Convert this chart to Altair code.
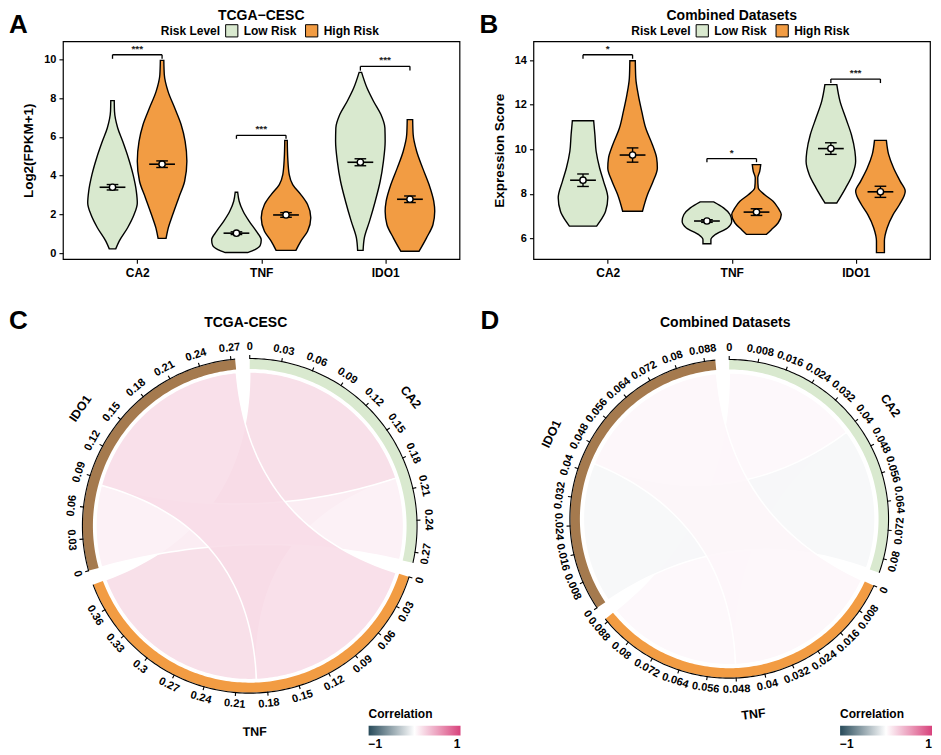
import json
import numpy as np
import pandas as pd
import altair as alt

FONT = "Liberation Sans"

GENES = ["CA2", "TNF", "IDO1"]
RISKS = ["Low Risk", "High Risk"]
RISK_COLORS = ["#d9e9cf", "#f29c43"]
SECTOR_COLORS = ["#d9e9cf", "#f29c43", "#a57a4e"]
CORR_COLORS = ["#284b5a", "#ffffff", "#d8427c"]

# ---------------- Panel A (TCGA-CESC) violin outlines: value, relative half-width
A_CA2_LOW_Y = [7.87, 7.32, 6.46, 5.77, 4.91, 4.05, 3.20, 2.59, 1.99, 1.31, 0.62, 0.22]
A_CA2_LOW_W = [0.07, 0.08, 0.21, 0.41, 0.64, 0.83, 0.96, 1.00, 0.87, 0.61, 0.27, 0.13]
A_CA2_HIGH_Y = [9.95, 9.21, 8.35, 7.49, 6.63, 5.77, 4.74, 3.71, 2.85, 1.99, 1.30, 0.76]
A_CA2_HIGH_W = [0.07, 0.09, 0.24, 0.51, 0.77, 0.93, 1.00, 0.91, 0.67, 0.43, 0.25, 0.16]
A_TNF_LOW_Y = [3.14, 2.68, 2.16, 1.65, 1.13, 0.68, 0.40, 0.18, 0.03]
A_TNF_LOW_W = [0.05, 0.11, 0.27, 0.51, 0.80, 1.00, 0.96, 0.75, 0.45]
A_TNF_HIGH_Y = [5.82, 4.91, 4.05, 3.54, 3.02, 2.51, 1.82, 1.13, 0.62, 0.14]
A_TNF_HIGH_W = [0.05, 0.07, 0.13, 0.27, 0.60, 0.87, 1.00, 0.87, 0.60, 0.40]
A_IDO1_LOW_Y = [9.33, 8.52, 7.84, 7.15, 6.46, 5.77, 4.74, 3.71, 2.68, 1.65, 0.79, 0.14]
A_IDO1_LOW_W = [0.05, 0.27, 0.53, 0.83, 0.99, 1.00, 0.93, 0.80, 0.60, 0.37, 0.16, 0.11]
A_IDO1_HIGH_Y = [6.89, 6.12, 5.26, 4.40, 3.54, 2.68, 2.16, 1.48, 0.79, 0.10]
A_IDO1_HIGH_W = [0.11, 0.13, 0.27, 0.51, 0.77, 0.96, 1.00, 0.93, 0.67, 0.37]

A_MEAN = [3.40, 4.59, 1.03, 1.97, 4.69, 2.78]
A_SE = [0.14, 0.17, 0.07, 0.12, 0.18, 0.17]
A_BRACKET_Y = [10.24, 6.08, 9.64]
A_BRACKET_TIP = [10.03, 5.90, 9.42]
A_STARS = ["***", "***", "***"]

# ---------------- Panel B (Combined Datasets)
B_CA2_LOW_Y = [11.28, 10.65, 9.91, 9.16, 8.56, 7.82, 7.22, 6.77, 6.55]
B_CA2_LOW_W = [0.43, 0.48, 0.53, 0.67, 0.83, 1.00, 0.91, 0.69, 0.55]
B_CA2_HIGH_Y = [13.97, 13.19, 12.44, 11.70, 10.95, 10.20, 9.61, 9.16, 8.56, 7.96, 7.22]
B_CA2_HIGH_W = [0.11, 0.13, 0.23, 0.37, 0.53, 0.80, 0.97, 1.00, 0.83, 0.60, 0.40]
B_TNF_LOW_Y = [7.64, 7.37, 7.07, 6.77, 6.47, 6.17, 5.95, 5.76]
B_TNF_LOW_W = [0.27, 0.67, 0.93, 1.00, 0.83, 0.33, 0.16, 0.16]
B_TNF_HIGH_Y = [9.31, 9.01, 8.72, 8.27, 7.96, 7.67, 7.37, 7.07, 6.69, 6.39, 6.18]
B_TNF_HIGH_W = [0.17, 0.13, 0.05, 0.07, 0.33, 0.67, 0.87, 1.00, 0.87, 0.60, 0.40]
B_IDO1_LOW_Y = [12.90, 12.15, 11.40, 10.65, 9.91, 9.46, 8.86, 8.27, 7.59]
B_IDO1_LOW_W = [0.24, 0.37, 0.60, 0.83, 0.97, 1.00, 0.87, 0.60, 0.24]
B_IDO1_HIGH_Y = [10.40, 9.77, 9.16, 8.56, 8.12, 7.52, 7.07, 6.47, 5.88, 5.36]
B_IDO1_HIGH_W = [0.24, 0.33, 0.53, 0.80, 1.00, 0.77, 0.51, 0.27, 0.16, 0.16]

B_MEAN = [8.61, 9.74, 6.78, 7.18, 10.03, 8.09]
B_SE = [0.28, 0.32, 0.06, 0.15, 0.26, 0.25]
B_BRACKET_Y = [14.24, 9.58, 13.15]
B_BRACKET_TIP = [14.06, 9.42, 12.97]
B_STARS = ["*", "*", "***"]

# ---------------- Panels C / D: gene-gene correlations (chord links)
PAIRS = [("CA2", "TNF"), ("CA2", "IDO1"), ("TNF", "IDO1")]
C_CORR = [0.196, 0.084, 0.19]
D_CORR = [0.041, -0.043, 0.048]
C_STEP = 0.03
D_STEP = 0.008

A_SHAPES = [(A_CA2_LOW_Y, A_CA2_LOW_W), (A_CA2_HIGH_Y, A_CA2_HIGH_W),
            (A_TNF_LOW_Y, A_TNF_LOW_W), (A_TNF_HIGH_Y, A_TNF_HIGH_W),
            (A_IDO1_LOW_Y, A_IDO1_LOW_W), (A_IDO1_HIGH_Y, A_IDO1_HIGH_W)]
B_SHAPES = [(B_CA2_LOW_Y, B_CA2_LOW_W), (B_CA2_HIGH_Y, B_CA2_HIGH_W),
            (B_TNF_LOW_Y, B_TNF_LOW_W), (B_TNF_HIGH_Y, B_TNF_HIGH_W),
            (B_IDO1_LOW_Y, B_IDO1_LOW_W), (B_IDO1_HIGH_Y, B_IDO1_HIGH_W)]

VIOLIN_HALF = 0.2
DODGE = 0.2
MEAN_HALF = 0.104
CAP_HALF = 0.047


def text_df(s):
    return pd.DataFrame({"t": [s]})


def violin_panel(shapes, means, ses, bky, btip, stars, ydom, yticks, ytitle,
                 title, letter, W, H):
    rows, stat, caps = [], [], []
    for gi, g in enumerate(GENES):
        for ri, r in enumerate(RISKS):
            k = gi * 2 + ri
            c = gi + 1 + (ri - 0.5) * 2 * DODGE
            ys, ws = shapes[k]
            for y, w in zip(ys, ws):
                rows.append(dict(vid=f"{g}|{r}", risk=r, v=y,
                                 lo=c - w * VIOLIN_HALF, hi=c + w * VIOLIN_HALF))
            m, s = means[k], ses[k]
            stat.append(dict(c=c, m=m, lo=m - s, hi=m + s,
                             ml=c - MEAN_HALF, mr=c + MEAN_HALF))
            for yy in (m - s, m + s):
                caps.append(dict(y=yy, cl=c - CAP_HALF, cr=c + CAP_HALF))
    vdf, sdf, cdf = pd.DataFrame(rows), pd.DataFrame(stat), pd.DataFrame(caps)
    brk, tips = [], []
    for gi, g in enumerate(GENES):
        x1, x2 = gi + 1 - DODGE, gi + 1 + DODGE
        brk.append(dict(x1=x1, x2=x2, xm=gi + 1, y=bky[gi], s=stars[gi]))
        for xx in (x1, x2):
            tips.append(dict(x=xx, y=btip[gi], y2=bky[gi]))
    bdf, tdf = pd.DataFrame(brk), pd.DataFrame(tips)

    xs = alt.Scale(domain=[0.4, 3.6], nice=False, zero=False)
    ysc = alt.Scale(domain=ydom, nice=False, zero=False)
    xax = alt.Axis(values=[1, 2, 3], labelExpr=f"{json.dumps(GENES)}[datum.value - 1]",
                   title=None, grid=False, domain=False, tickSize=4,
                   labelFontSize=12, labelFontWeight="bold", labelPadding=4)
    yax = alt.Axis(values=yticks, title=ytitle, grid=False, domain=False, tickSize=4,
                   labelFontSize=11, labelFontWeight="bold", labelPadding=3,
                   titleFontSize=13.5, titleFontWeight="bold", titlePadding=8)

    def X(f):
        return alt.X(f, type="quantitative", scale=xs, axis=xax)

    def Y(f):
        return alt.Y(f, type="quantitative", scale=ysc, axis=yax)

    leg = alt.Legend(orient="none", legendX=98, legendY=-18, direction="horizontal",
                     title="Risk Level", titleOrient="left", titleFontSize=12,
                     titleFontWeight="bold", labelFontSize=12, labelFontWeight="bold",
                     symbolType="square", symbolSize=150, symbolStrokeColor="black",
                     symbolStrokeWidth=1, symbolOpacity=1, labelOffset=5,
                     columnPadding=6, titlePadding=4)

    violin = alt.Chart(vdf).mark_area(orient="horizontal", interpolate="monotone",
                                      stroke="black", strokeWidth=1.4, opacity=1).encode(
        y=Y("v"), x=X("lo"), x2="hi",
        color=alt.Color("risk:N", scale=alt.Scale(domain=RISKS, range=RISK_COLORS),
                        legend=leg, sort=RISKS),
        detail="vid:N")
    meanline = alt.Chart(sdf).mark_rule(color="black", strokeWidth=1.6).encode(
        x=X("ml"), x2="mr", y=Y("m"))
    err = alt.Chart(sdf).mark_rule(color="black", strokeWidth=1.4).encode(
        x=X("c"), y=Y("lo"), y2="hi")
    capl = alt.Chart(cdf).mark_rule(color="black", strokeWidth=1.4).encode(
        x=X("cl"), x2="cr", y=Y("y"))
    pt = alt.Chart(sdf).mark_circle(fill="white", stroke="black", strokeWidth=1.4,
                                    size=40, opacity=1).encode(x=X("c"), y=Y("m"))
    br = alt.Chart(bdf).mark_rule(color="black", strokeWidth=1.3).encode(
        x=X("x1"), x2="x2", y=Y("y"))
    tp = alt.Chart(tdf).mark_rule(color="black", strokeWidth=1.3).encode(
        x=X("x"), y=Y("y"), y2="y2")
    st = alt.Chart(bdf).mark_text(baseline="bottom", dy=-1, fontSize=10,
                                  fontWeight="bold", color="#222").encode(
        x=X("xm"), y=Y("y"), text="s:N")
    ttl = alt.Chart(text_df(title)).mark_text(fontSize=14, fontWeight="bold",
                                              align="center", baseline="middle").encode(
        x=alt.value(W / 2), y=alt.value(-25), text="t:N")
    let = alt.Chart(text_df(letter)).mark_text(fontSize=26, fontWeight="bold",
                                               align="left", baseline="middle").encode(
        x=alt.value(-54), y=alt.value(-16), text="t:N")
    return alt.layer(violin, meanline, err, capl, pt, br, tp, st, ttl, let).properties(
        width=W, height=H)


GAP = 5.0


def flip(th):
    t = th % 360
    if 90 < t < 270:
        t -= 180
    return t % 360


def chord_panel(corr, step, R, cx, cy, W, H, title, letter, name_r, leg_x, leg_y,
                track_px, letter_x, title_x):
    n = len(GENES)
    absr = [abs(c) for c in corr]
    sizes = [sum(absr[k] for k, p in enumerate(PAIRS) if g in p) for g in GENES]
    dpu = (360 - GAP * n) / sum(sizes)
    starts = []
    a = 0.0
    for s in sizes:
        starts.append(a)
        a += s * dpu + GAP
    # within each sector, links are laid out in the cyclic order of the partners
    seg = {}
    for gi, g in enumerate(GENES):
        cur = starts[gi]
        for step_ in range(1, n):
            p = GENES[(gi + step_) % n]
            for k, pair in enumerate(PAIRS):
                if g in pair and p in pair:
                    w = absr[k] * dpu
                    seg[(k, g)] = (cur, cur + w)
                    cur += w

    def xy(r, th):
        t = np.radians(th)
        return r * np.sin(t), r * np.cos(t)

    def arc(r, t0, t1):
        m = max(2, int(abs(t1 - t0)) + 2)
        return [xy(r, t) for t in np.linspace(t0, t1, m)]

    def bez(p0, p2):
        out = []
        for t in np.linspace(0, 1, 40):
            out.append(((1 - t) ** 2 * p0[0] + t ** 2 * p2[0],
                        (1 - t) ** 2 * p0[1] + t ** 2 * p2[1]))
        return out

    rr = 1 - 13 / R
    rib = []
    for k, (g1, g2) in enumerate(PAIRS):
        a1, b1 = seg[(k, g1)]
        a2, b2 = seg[(k, g2)]
        pts = arc(rr, a1, b1) + bez(xy(rr, b1), xy(rr, a2)) + arc(rr, a2, b2) + \
            bez(xy(rr, b2), xy(rr, a1))
        for i, (x, y) in enumerate(pts):
            rib.append(dict(link=f"L{k}", i=i, x=x, y=y, r=corr[k]))
    ribdf = pd.DataFrame(rib)

    trk, axl, ticks, labs, names = [], [], [], [], []
    for gi, g in enumerate(GENES):
        s0, s1 = starts[gi], starts[gi] + sizes[gi] * dpu
        for i, (x, y) in enumerate(arc(1 - track_px / (2 * R), s0, s1)):
            trk.append(dict(sec=g, i=i, x=x, y=y, col=SECTOR_COLORS[gi]))
        for i, (x, y) in enumerate(arc(1 + 0.5 / R, s0, s1)):
            axl.append(dict(sec=g, i=i, x=x, y=y))
        nt = int(sizes[gi] / step + 1e-9)
        for j in range(nt + 1):
            val = j * step
            th = s0 + val * dpu
            x0, y0 = xy(1, th)
            x1, y1 = xy(1 + 4 / R, th)
            ticks.append(dict(x=x0, y=y0, x2=x1, y2=y1))
            lx, ly = xy(1 + 12 / R, th)
            labs.append(dict(x=lx, y=ly, lab=f"{round(val, 4):g}", ang=flip(th)))
        mid = (s0 + s1) / 2
        nx, ny = xy(name_r, mid)
        names.append(dict(x=nx, y=ny, lab=g, ang=flip(mid)))
    trkdf, axdf = pd.DataFrame(trk), pd.DataFrame(axl)
    tkdf, lbdf, nmdf = pd.DataFrame(ticks), pd.DataFrame(labs), pd.DataFrame(names)

    xs = alt.Scale(domain=[-cx / R, (W - cx) / R], nice=False, zero=False)
    ysc = alt.Scale(domain=[-(H - cy) / R, cy / R], nice=False, zero=False)

    def X(f):
        return alt.X(f, type="quantitative", scale=xs, axis=None)

    def Y(f):
        return alt.Y(f, type="quantitative", scale=ysc, axis=None)

    leg = alt.Legend(orient="none", legendX=leg_x, legendY=leg_y, direction="horizontal",
                     title="Correlation", titleFontSize=12, titleFontWeight="bold",
                     labelFontSize=12, labelFontWeight="bold", gradientLength=92,
                     gradientThickness=10, values=[-1, 1], titlePadding=5,
                     labelOffset=3, gradientStrokeWidth=0)
    ribbons = alt.Chart(ribdf).mark_line(stroke="white", strokeWidth=1.5,
                                         fillOpacity=0.85).encode(
        x=X("x"), y=Y("y"), order="i:Q", detail="link:N",
        fill=alt.Fill("r:Q", scale=alt.Scale(domain=[-1, 0, 1], range=CORR_COLORS,
                                             interpolate="rgb"),
                      legend=leg))
    track = alt.Chart(trkdf).mark_line(strokeWidth=track_px, strokeCap="butt",
                                       fill="transparent").encode(
        x=X("x"), y=Y("y"), order="i:Q", detail="sec:N",
        color=alt.Color("col:N", scale=None))
    axis_line = alt.Chart(axdf).mark_line(color="black", strokeWidth=1.1,
                                          fill="transparent").encode(
        x=X("x"), y=Y("y"), order="i:Q", detail="sec:N")
    tk = alt.Chart(tkdf).mark_rule(color="black", strokeWidth=1.1).encode(
        x=X("x"), y=Y("y"), x2="x2", y2="y2")
    lb = alt.Chart(lbdf).mark_text(fontSize=11, fontWeight="bold", align="center",
                                   baseline="middle").encode(
        x=X("x"), y=Y("y"), text="lab:N", angle=alt.Angle("ang:Q", scale=None))
    nm = alt.Chart(nmdf).mark_text(fontSize=12.5, fontWeight="bold", align="center",
                                   baseline="middle").encode(
        x=X("x"), y=Y("y"), text="lab:N", angle=alt.Angle("ang:Q", scale=None))
    ttl = alt.Chart(text_df(title)).mark_text(fontSize=14, fontWeight="bold",
                                              align="center", baseline="middle").encode(
        x=alt.value(title_x), y=alt.value(-18), text="t:N")
    let = alt.Chart(text_df(letter)).mark_text(fontSize=26, fontWeight="bold",
                                               align="left", baseline="middle").encode(
        x=alt.value(letter_x), y=alt.value(-20), text="t:N")
    return alt.layer(ribbons, track, axis_line, tk, lb, nm, ttl, let).properties(
        width=W, height=H, view=alt.ViewBackground(stroke="transparent"))


pA = violin_panel(A_SHAPES, A_MEAN, A_SE, A_BRACKET_Y, A_BRACKET_TIP, A_STARS,
                  [-0.31, 10.93], [0, 2, 4, 6, 8, 10], "Log2(FPKM+1)",
                  "TCGA\u2212CESC", "A", 397, 218)
pB = violin_panel(B_SHAPES, B_MEAN, B_SE, B_BRACKET_Y, B_BRACKET_TIP, B_STARS,
                  [5.07, 14.84], [6, 8, 10, 12, 14], "Expression Score",
                  "Combined Datasets", "B", 397, 218)
pC = chord_panel(C_CORR, C_STEP, 167, 187, 185, 397, 370, "TCGA-CESC", "C", 1.235,
                 306, 368, 10, -54, 183)
pD = chord_panel(D_CORR, D_STEP, 159, 196, 178, 397, 370, "Combined Datasets", "D",
                 1.24, 307, 368, 9.5, -53, 192)

chart = alt.concat(
    pA, pB, pC, pD, columns=2, bounds="flush",
    spacing=alt.RowColnumber(row=82, column=74)
).resolve_scale(
    color="independent", fill="independent", x="independent", y="independent"
).resolve_legend(color="independent", fill="independent").properties(
    padding=0
).configure(font=FONT).configure_view(stroke="black", strokeWidth=1.2).configure_axis(
    labelColor="black", titleColor="black", tickColor="black", tickWidth=1.1
).configure_legend(labelColor="black", titleColor="black").configure_text(color="black")

chart.save("out.html", embed_options={"renderer": "svg", "actions": False})
